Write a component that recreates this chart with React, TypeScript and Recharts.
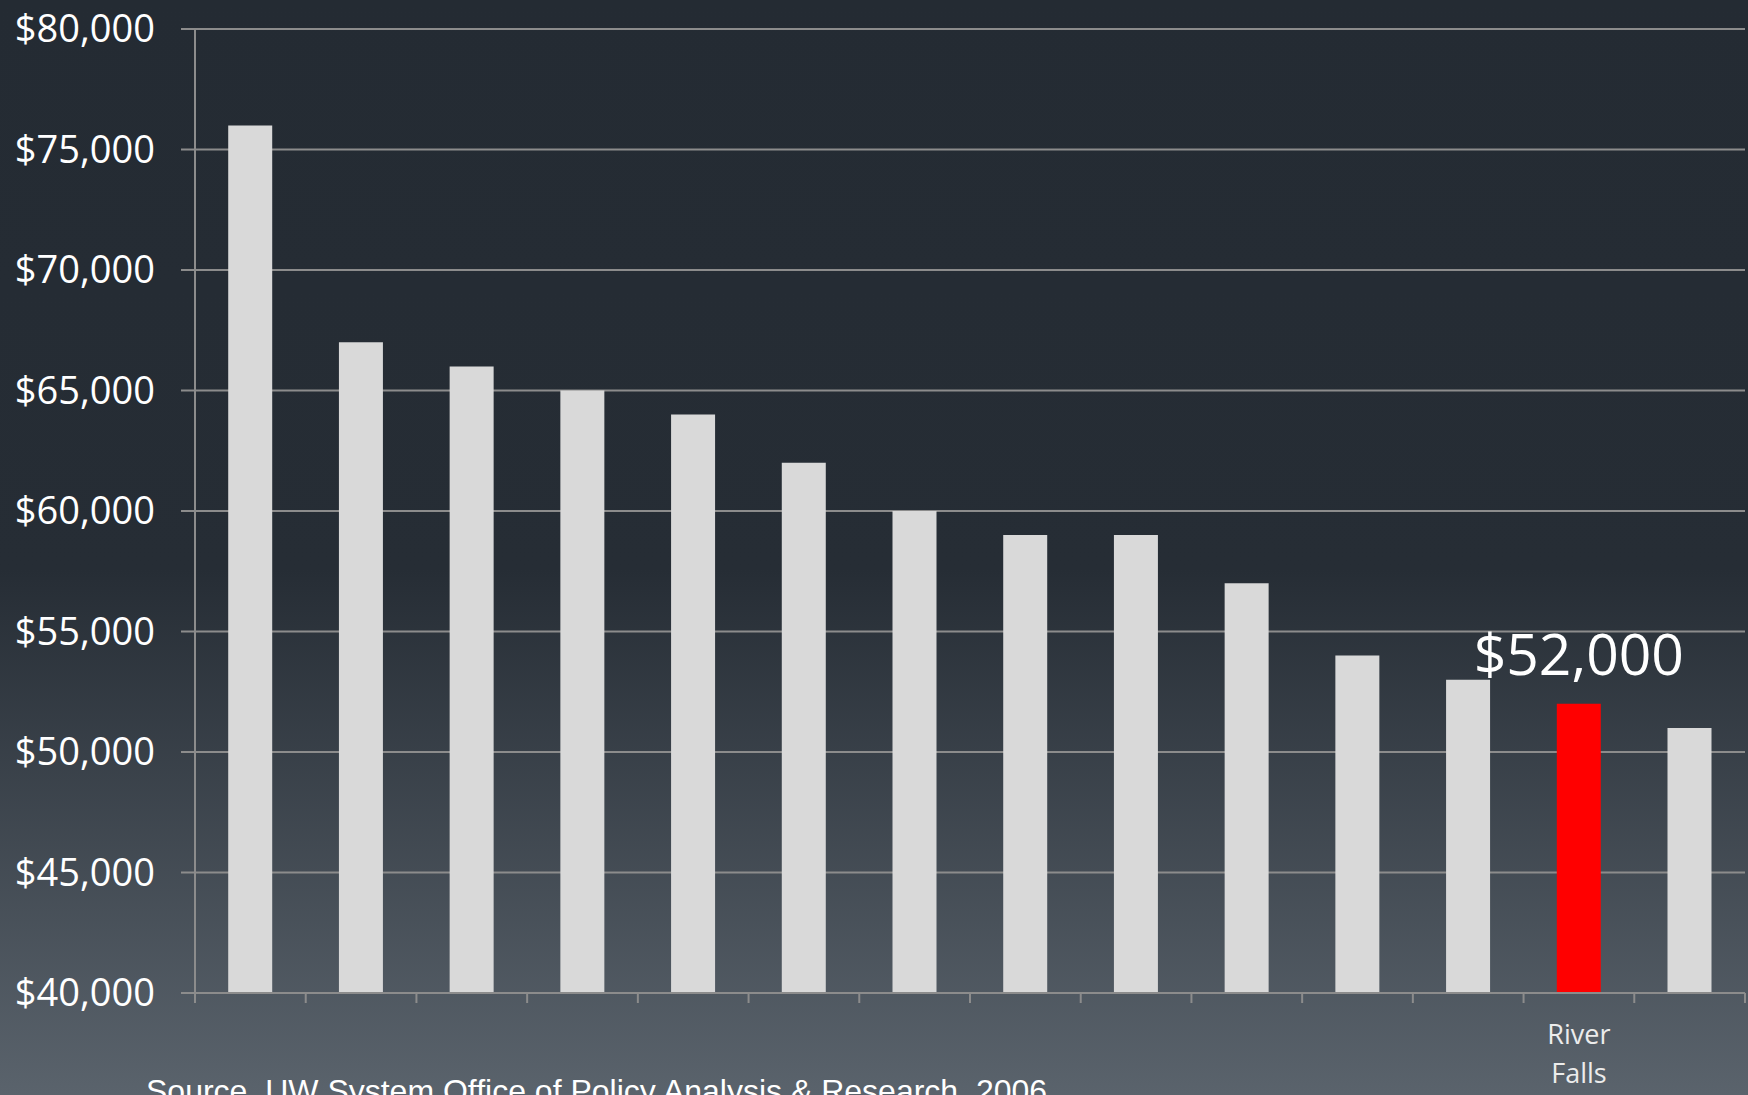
import React from 'react';
import { BarChart, Bar, XAxis, YAxis, CartesianGrid, Cell, LabelList } from 'recharts';

// campuses sorted by average salary, only River Falls is named on the slide
const campuses = ['', '', '', '', '', '', '', '', '', '', '', '', 'River Falls', ''];
const salaries = [76000, 67000, 66000, 65000, 64000, 62000, 60000, 59000, 59000, 57000, 54000, 53000, 52000, 51000];
const yTicks = [40000, 45000, 50000, 55000, 60000, 65000, 70000, 75000, 80000];
const highlight = 'River Falls';
const sourceNote = 'Source, UW System Office of Policy Analysis & Research, 2006';

const W = 1748;
const H = 1095;
const GRID = '#8c8c8c';
const BAR = '#d9d9d9';
const RED = '#ff0000';
const FONT = '"Open Sans", "Noto Sans", sans-serif';

const fmt = (v: number) => '$' + v.toLocaleString('en-US');

function CategoryTick(props: any) {
    const { x, y, payload, index, width } = props;
    const half = payload.offset || width / campuses.length / 2;
    const words = String(payload.value || '').split(' ').filter(Boolean);
    return (
        <g>
            <line x1={x - half} x2={x - half} y1={y - 10} y2={y} stroke={GRID} strokeWidth={2} />
            {index === campuses.length - 1 && (
                <line x1={x + half} x2={x + half} y1={y - 10} y2={y} stroke={GRID} strokeWidth={2} />
            )}
            {words.map((w, i) => (
                <text key={i} x={x} y={y + 41 + i * 39} textAnchor="middle" fill="#ececec" fontSize={27} fontFamily={FONT}>
                    {w}
                </text>
            ))}
        </g>
    );
}

function HighlightLabel(props: any) {
    const { x, y, width, value, index } = props;
    if (campuses[index] !== highlight) return null;
    return (
        <text x={x + width / 2} y={y - 29} textAnchor="middle" fill="#ffffff" fontSize={57} fontFamily={FONT}>
            {fmt(value)}
        </text>
    );
}

export default function App() {
    const data = campuses.map((name, i) => ({ name, salary: salaries[i] }));

    return (
        <div
            style={{
                position: 'absolute',
                left: 0,
                top: 0,
                width: W,
                height: H,
                overflow: 'hidden',
                background: 'linear-gradient(to bottom, #242b33 0%, #262d35 52%, #5a636c 100%)',
            }}
        >
            <BarChart width={W} height={H} data={data} margin={{ top: 29, right: 3, bottom: 0, left: 0 }} barCategoryGap="30%">
                <CartesianGrid vertical={false} stroke={GRID} strokeWidth={2} />
                <XAxis
                    dataKey="name"
                    height={102}
                    interval={0}
                    axisLine={{ stroke: GRID, strokeWidth: 2 }}
                    tickLine={false}
                    tickSize={10}
                    tickMargin={0}
                    tick={<CategoryTick />}
                />
                <YAxis
                    width={195}
                    domain={[40000, 80000]}
                    ticks={yTicks}
                    allowDataOverflow
                    tickFormatter={fmt}
                    axisLine={{ stroke: GRID, strokeWidth: 2 }}
                    tickLine={{ stroke: GRID, strokeWidth: 2 }}
                    tickSize={14}
                    tickMargin={26}
                    tick={{ fill: '#ffffff', fontSize: 38, fontFamily: FONT }}
                />
                <Bar dataKey="salary" fill={BAR} isAnimationActive={false}>
                    {data.map((d, i) => (
                        <Cell key={`cell-${i}`} fill={d.name === highlight ? RED : BAR} />
                    ))}
                    <LabelList dataKey="salary" content={<HighlightLabel />} />
                </Bar>
            </BarChart>
            <div
                style={{
                    position: 'absolute',
                    left: 146,
                    top: 1073,
                    fontFamily: '"Liberation Sans", Arial, sans-serif',
                    fontSize: 32,
                    lineHeight: '37px',
                    color: '#ffffff',
                    whiteSpace: 'nowrap',
                }}
            >
                {sourceNote}
            </div>
        </div>
    );
}
